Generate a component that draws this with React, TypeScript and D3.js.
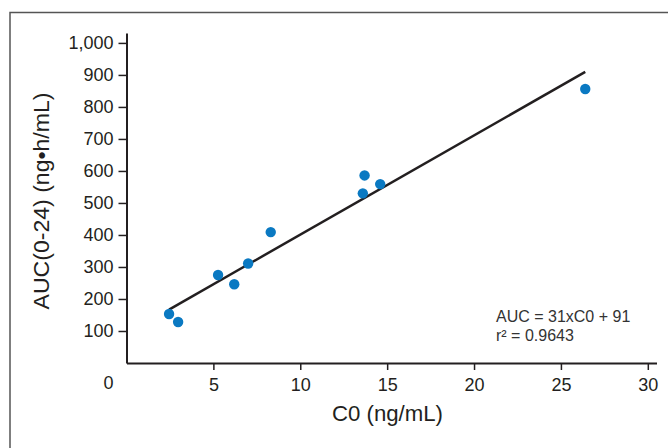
import React, { useEffect, useRef } from 'react';
import * as d3 from 'd3';

// C0 (ng/mL) vs AUC(0-24) (ng•h/mL)
const c0Values = [2.45, 2.97, 5.27, 6.2, 7.0, 8.3, 13.6, 13.7, 14.6, 26.4];
const aucValues = [153, 128, 275, 246, 311, 409, 530, 586, 559, 856];
const xTicks = [5, 10, 15, 20, 25, 30];
const yTicks = [100, 200, 300, 400, 500, 600, 700, 800, 900, 1000];
const slope = 31;
const intercept = 91;
const fitLabels = ['AUC = 31xC0 + 91', 'r² = 0.9643'];

const App = () => {
  const svgRef = useRef<SVGSVGElement>(null);

  useEffect(() => {
    const svg = d3.select(svgRef.current);
    svg.selectAll('*').remove();

    const ink = '#231f20';
    const font = '"Liberation Sans", Arial, sans-serif';
    const narrow = '"Liberation Sans Narrow", "Liberation Sans", Arial, sans-serif';

    const x = d3.scaleLinear().domain([0, 30.5]).range([126.5, 656.5]);
    const y = d3.scaleLinear().domain([0, 1031]).range([363, 33]);

    // outer frame (runs off the right and bottom edges)
    svg.append('path')
      .attr('d', 'M10,460 L10,12.5 L680,12.5')
      .attr('fill', 'none')
      .attr('stroke', '#555')
      .attr('stroke-width', 1.5);

    // y axis
    const gy = svg.append('g')
      .attr('transform', `translate(${x(0)},0)`)
      .call(d3.axisLeft(y)
        .tickValues(yTicks)
        .tickFormat(d3.format(','))
        .tickSize(8)
        .tickSizeOuter(0)
        .tickPadding(5));
    gy.select('.domain').attr('stroke', ink).attr('stroke-width', 2);
    gy.selectAll('line').attr('stroke', ink).attr('stroke-width', 1.5);
    gy.selectAll('text')
      .attr('fill', ink)
      .style('font-family', font)
      .style('font-size', '18px');

    // x axis
    const gx = svg.append('g')
      .attr('transform', `translate(0,${y(0)})`)
      .call(d3.axisBottom(x)
        .tickValues(xTicks)
        .tickSize(7)
        .tickSizeOuter(0)
        .tickPadding(8));
    gx.select('.domain').attr('stroke', ink).attr('stroke-width', 2);
    gx.selectAll('line').attr('stroke', ink).attr('stroke-width', 1.5);
    gx.selectAll('text')
      .attr('fill', ink)
      .style('font-family', font)
      .style('font-size', '18px');

    // origin label
    svg.append('text')
      .attr('x', x(0) - 18)
      .attr('y', y(0) + 26)
      .attr('text-anchor', 'middle')
      .attr('fill', ink)
      .style('font-family', font)
      .style('font-size', '18px')
      .text('0');

    // axis titles
    svg.append('text')
      .attr('x', 387.5)
      .attr('y', 421)
      .attr('text-anchor', 'middle')
      .attr('fill', ink)
      .attr('textLength', 111)
      .attr('lengthAdjust', 'spacingAndGlyphs')
      .style('font-family', narrow)
      .style('font-size', '22px')
      .text('C0 (ng/mL)');

    svg.append('text')
      .attr('transform', 'translate(49,201) rotate(-90)')
      .attr('text-anchor', 'middle')
      .attr('fill', ink)
      .attr('textLength', 217)
      .attr('lengthAdjust', 'spacingAndGlyphs')
      .style('font-family', narrow)
      .style('font-size', '22px')
      .text('AUC(0-24) (ng•h/mL)');

    // regression line over the data range
    const [xMin, xMax] = d3.extent(c0Values) as [number, number];
    const fit = d3.line<number>()
      .x(d => x(d))
      .y(d => y(slope * d + intercept));
    svg.append('path')
      .datum([xMin, xMax])
      .attr('fill', 'none')
      .attr('stroke', ink)
      .attr('stroke-width', 2.5)
      .attr('d', fit);

    // points
    svg.append('g')
      .selectAll('circle')
      .data(c0Values)
      .enter().append('circle')
      .attr('cx', d => x(d))
      .attr('cy', (d, i) => y(aucValues[i]))
      .attr('r', 5.2)
      .attr('fill', '#0a79c2');

    // equation
    svg.append('g')
      .selectAll('text')
      .data(fitLabels)
      .enter().append('text')
      .attr('x', 496)
      .attr('y', (d, i) => 322 + i * 19)
      .attr('fill', '#333')
      .style('font-family', font)
      .style('font-size', '16px')
      .text(d => d);
  }, []);

  return (
    <svg
      ref={svgRef}
      width="668"
      height="448"
      style={{ position: 'absolute', left: 0, top: 0, background: '#fff' }}
    ></svg>
  );
};

export default App;
